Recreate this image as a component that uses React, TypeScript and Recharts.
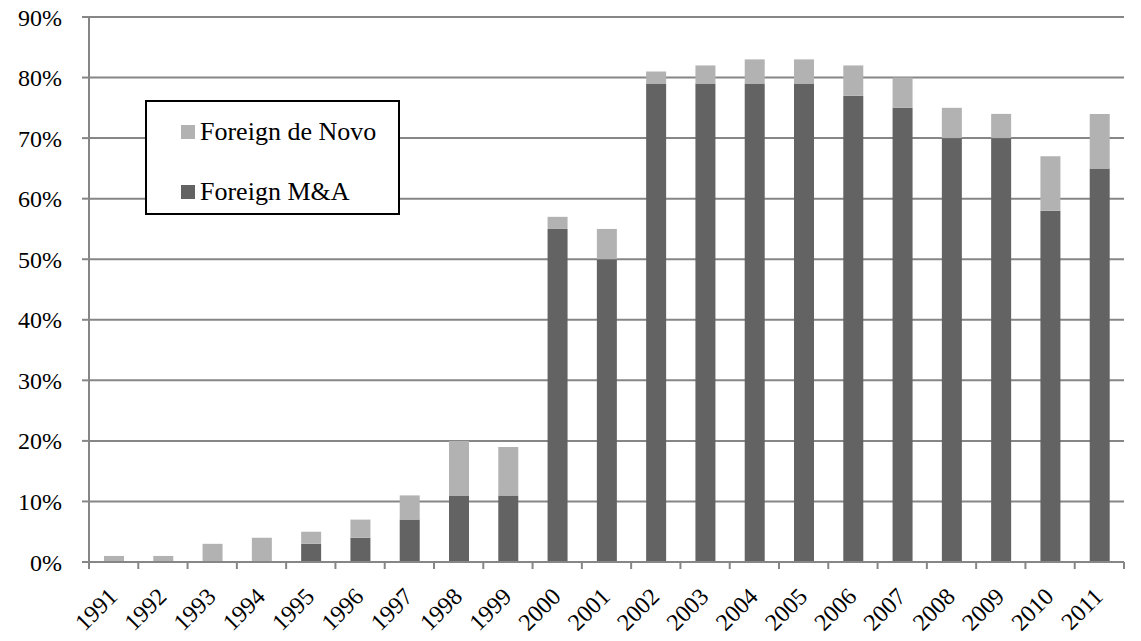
import React from "react";
import { BarChart, Bar, XAxis, YAxis, CartesianGrid, Legend } from "recharts";

const years = ["1991", "1992", "1993", "1994", "1995", "1996", "1997", "1998", "1999", "2000", "2001",
  "2002", "2003", "2004", "2005", "2006", "2007", "2008", "2009", "2010", "2011"];
const foreignMA = [0, 0, 0, 0, 3, 4, 7, 11, 11, 55, 50, 79, 79, 79, 79, 77, 75, 70, 70, 58, 65];
const foreignDeNovo = [1, 1, 3, 4, 2, 3, 4, 9, 8, 2, 5, 2, 3, 4, 4, 5, 5, 5, 4, 9, 9];
const yTicks = [0, 10, 20, 30, 40, 50, 60, 70, 80, 90];

const data = years.map((y, i) => ({ year: y, ma: foreignMA[i], deNovo: foreignDeNovo[i] }));

const FONT = "'Liberation Serif', 'Times New Roman', serif";
const AXIS_GRAY = "#868686";

// tickSize/tickMargin are 0 on the x axis, so y is the axis line itself
const YearTick = (props: any) => {
  const { x, y, payload, index, visibleTicksCount } = props;
  const half = payload.offset || 0;
  return (
    <g>
      <line x1={x - half} x2={x - half} y1={y} y2={y + 7} stroke={AXIS_GRAY} strokeWidth={2} />
      {index === visibleTicksCount - 1 && (
        <line x1={x + half} x2={x + half} y1={y} y2={y + 7} stroke={AXIS_GRAY} strokeWidth={2} />
      )}
      <g transform={`translate(${x + 5},${y + 36})`}>
        <text x={0} y={0} transform="rotate(-45)" textAnchor="end" fontSize={24} fontFamily={FONT} fill="#000">
          {payload.value}
        </text>
      </g>
    </g>
  );
};

const LegendBox = (props: any) => {
  const items = [...(props.payload || [])].reverse();
  return (
    <div style={{ width: 255, height: 115, border: "2px solid #000", background: "#fff", boxSizing: "border-box", paddingTop: 15, paddingLeft: 34 }}>
      {items.map((it: any) => (
        <div key={it.value} style={{ display: "flex", alignItems: "center", height: 30, marginBottom: 30, fontFamily: FONT, fontSize: 26, color: "#000", whiteSpace: "nowrap" }}>
          <span style={{ display: "inline-block", width: 14, height: 14, background: it.color, marginRight: 5 }} />
          {it.value}
        </div>
      ))}
    </div>
  );
};

export default function App() {
  return (
    <div style={{ position: "absolute", left: 0, top: 0, background: "#fff" }}>
      <BarChart width={1141} height={641} data={data} margin={{ top: 17, right: 17, bottom: 0, left: 0 }} barSize={20}>
        <CartesianGrid vertical={false} stroke={AXIS_GRAY} strokeWidth={2} />
        <XAxis dataKey="year" height={79} interval={0} tickLine={false} tickSize={0} tickMargin={0}
          axisLine={{ stroke: AXIS_GRAY, strokeWidth: 2 }} tick={<YearTick />} />
        <YAxis domain={[0, 90]} ticks={yTicks} width={89} tickSize={7} tickMargin={20} interval={0}
          tickFormatter={(v: number) => `${v}%`}
          axisLine={{ stroke: AXIS_GRAY, strokeWidth: 2 }} tickLine={{ stroke: AXIS_GRAY, strokeWidth: 2 }}
          tick={{ fontSize: 24, fontFamily: FONT, fill: "#000" }} />
        <Legend layout="vertical" align="center" verticalAlign="middle" content={<LegendBox />}
          wrapperStyle={{ left: 145, top: 100, width: 255, height: 115 }} />
        <Bar dataKey="ma" name="Foreign M&A" stackId="a" fill="#636363" isAnimationActive={false} />
        <Bar dataKey="deNovo" name="Foreign de Novo" stackId="a" fill="#b2b2b2" isAnimationActive={false} />
      </BarChart>
    </div>
  );
}
